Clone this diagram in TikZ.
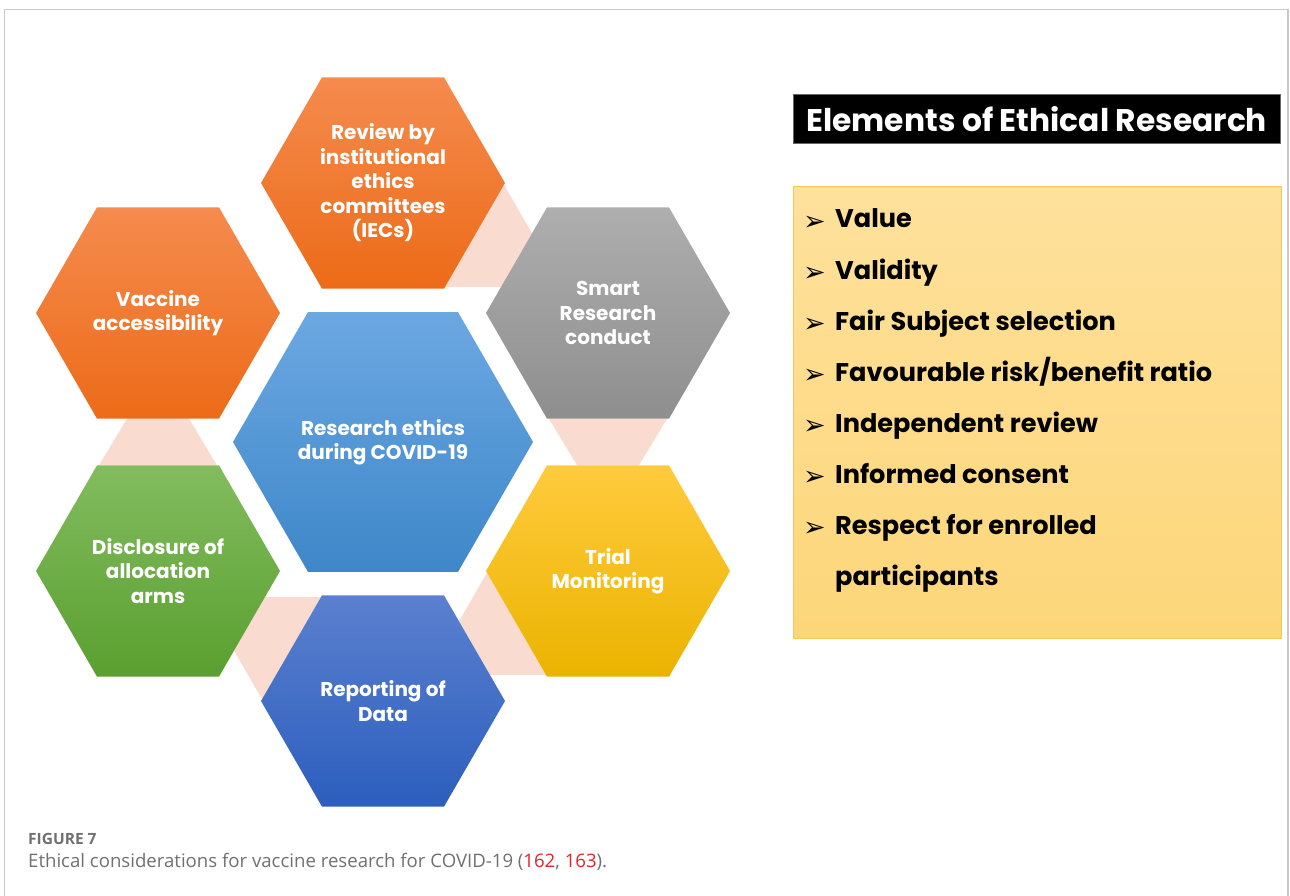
\documentclass[tikz,border=0pt]{standalone}
\usepackage{fontspec}
\setmainfont{Poppins}
\newfontfamily\capfont{Open Sans}
\newfontfamily\arrowfont{DejaVu Sans}
\usetikzlibrary{shapes.geometric,calc,backgrounds}

\definecolor{orangetop}{HTML}{F58B4E}
\definecolor{orangebot}{HTML}{EC6B18}
\definecolor{greytop}{HTML}{AEAEAE}
\definecolor{greybot}{HTML}{8E8E8E}
\definecolor{goldtop}{HTML}{FFCB3D}
\definecolor{goldbot}{HTML}{EBB300}
\definecolor{navytop}{HTML}{5B80CF}
\definecolor{navybot}{HTML}{2C5EBD}
\definecolor{greentop}{HTML}{82BC5F}
\definecolor{greenbot}{HTML}{5A9F2F}
\definecolor{skytop}{HTML}{6CA8E2}
\definecolor{skybot}{HTML}{3E87C9}
\definecolor{bandpink}{HTML}{FADBCF}
\definecolor{boxtop}{HTML}{FEE19C}
\definecolor{boxbot}{HTML}{FDD679}
\definecolor{boxedge}{HTML}{F3C75A}
\definecolor{capgrey}{HTML}{707070}
\definecolor{refred}{HTML}{E3242B}
\definecolor{framegrey}{HTML}{C9C9C9}

% band between two hexagons, wide at the first one
\newcommand\hexband[2]{%
  \fill[bandpink] ($(#1.center)!105.7pt!(#2.center)!59pt!90:(#2.center)$)
    -- ($(#1.center)!105.7pt!(#2.center)!59pt!-90:(#2.center)$)
    -- ($(#2.center)!105.7pt!(#1.center)!31pt!90:(#1.center)$)
    -- ($(#2.center)!105.7pt!(#1.center)!31pt!-90:(#1.center)$) -- cycle;}

\begin{document}
\begin{tikzpicture}[x=1pt,y=-1pt,
  hexa/.style={regular polygon, regular polygon sides=6, minimum size=#1,
    inner sep=0pt, text=white, align=center,
    font=\bfseries\fontsize{20}{24.5}\selectfont},
  hexa/.default=244pt,
  item/.style={anchor=base west, inner sep=0pt,
    font=\bfseries\fontsize{25.6}{25.6}\selectfont}]
\useasboundingbox (0,0) rectangle (1290,896);
\draw[framegrey, line width=1.2pt] (4.5,896) |- (1288,9.5) -- (1288,896);

\node[hexa=300pt, top color=skytop, bottom color=skybot] (core) at (383,442) {Research ethics\\during COVID-19};
\node[hexa, top color=orangetop, bottom color=orangebot] (iec) at (383,183) {Review by\\institutional\\ethics\\committees\\(IECs)};
\node[hexa, top color=greytop, bottom color=greybot] (smart) at (608,313) {Smart\\Research\\conduct};
\node[hexa, top color=goldtop, bottom color=goldbot] (trial) at (608,571) {Trial\\Monitoring};
\node[hexa, top color=navytop, bottom color=navybot] (report) at (383,701) {Reporting of\\Data};
\node[hexa, top color=greentop, bottom color=greenbot] (arms) at (158,571) {Disclosure of\\allocation\\arms};
\node[hexa, top color=orangetop, bottom color=orangebot] (access) at (158,313) {Vaccine\\accessibility};
\begin{scope}[on background layer]
\hexband{iec}{smart}
\hexband{smart}{trial}
\hexband{trial}{report}
\hexband{report}{arms}
\hexband{arms}{access}
\end{scope}

\node[fill=black, draw=black!60, minimum width=487pt, minimum height=49pt, inner sep=0pt,
  anchor=north west, text=white, font=\bfseries\fontsize{31.3}{31.3}\selectfont] (title) at (793,94) {Elements of Ethical Research};
\node[draw=boxedge, top color=boxtop, bottom color=boxbot, minimum width=488pt,
  minimum height=452pt, inner sep=0pt, anchor=north west] (box) at (793,186) {};
\foreach \txt [count=\i] in {Value, Validity, Fair Subject selection, {Favourable risk/benefit ratio},
    Independent review, Informed consent, Respect for enrolled}{
  \node[anchor=base west, inner sep=0pt, font=\arrowfont\fontsize{27}{27}\selectfont] (bul\i) at (803,{230+51*(\i-1)}) {➢};
  \node[item] (el\i) at (835,{228+51*(\i-1)}) {\txt};
}
\node[item] (el8) at (835,585) {participants};

\node[anchor=base west, inner sep=0pt, text=capgrey, font=\capfont\bfseries\fontsize{15.5}{15.5}\selectfont] (fignum) at (28,844) {FIGURE 7};
\node[anchor=base west, inner sep=0pt, text=capgrey, font=\capfont\fontsize{18.6}{18.6}\selectfont] (caption) at (28,867)
  {Ethical considerations for vaccine research for COVID-19 (\textcolor{refred}{162}, \textcolor{refred}{163}).};
\end{tikzpicture}
\end{document}
